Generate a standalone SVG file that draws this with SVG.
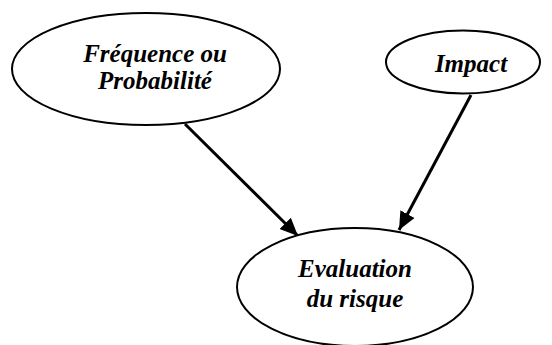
<svg xmlns="http://www.w3.org/2000/svg" width="552" height="345" viewBox="0 0 552 345">
  <style>
    .node ellipse { fill: #ffffff; stroke: #000000; stroke-width: 2; }
    .node text { font-family: "Liberation Serif", "Times New Roman", serif; font-size: 25px; font-weight: bold; font-style: italic; fill: #000000; text-anchor: middle; }
    .edge { stroke: #000000; stroke-width: 3; fill: none; marker-end: url(#arrow); }
  </style>
  <defs>
    <marker id="arrow" markerUnits="userSpaceOnUse" markerWidth="20" markerHeight="20" viewBox="0 0 20 20" refX="18" refY="10" orient="auto">
      <path d="M0,2 L18,10 L0,18 Z" fill="#000000"/>
    </marker>
  </defs>
  <rect width="552" height="345" fill="#ffffff"/>

  <g id="edges">
    <line class="edge" x1="185" y1="124" x2="298" y2="236"/>
    <line class="edge" x1="471" y1="95" x2="399" y2="230"/>
  </g>

  <g id="frequence" class="node">
    <ellipse cx="146" cy="69" rx="134" ry="56"/>
    <text x="155" y="62">Fréquence ou</text>
    <text x="155" y="89">Probabilité</text>
  </g>

  <g id="impact" class="node">
    <ellipse cx="463" cy="62" rx="77" ry="31.5"/>
    <text x="471" y="72">Impact</text>
  </g>

  <g id="evaluation" class="node">
    <ellipse cx="355" cy="287" rx="118" ry="59"/>
    <text x="355" y="277">Evaluation</text>
    <text x="355" y="307">du risque</text>
  </g>
</svg>
